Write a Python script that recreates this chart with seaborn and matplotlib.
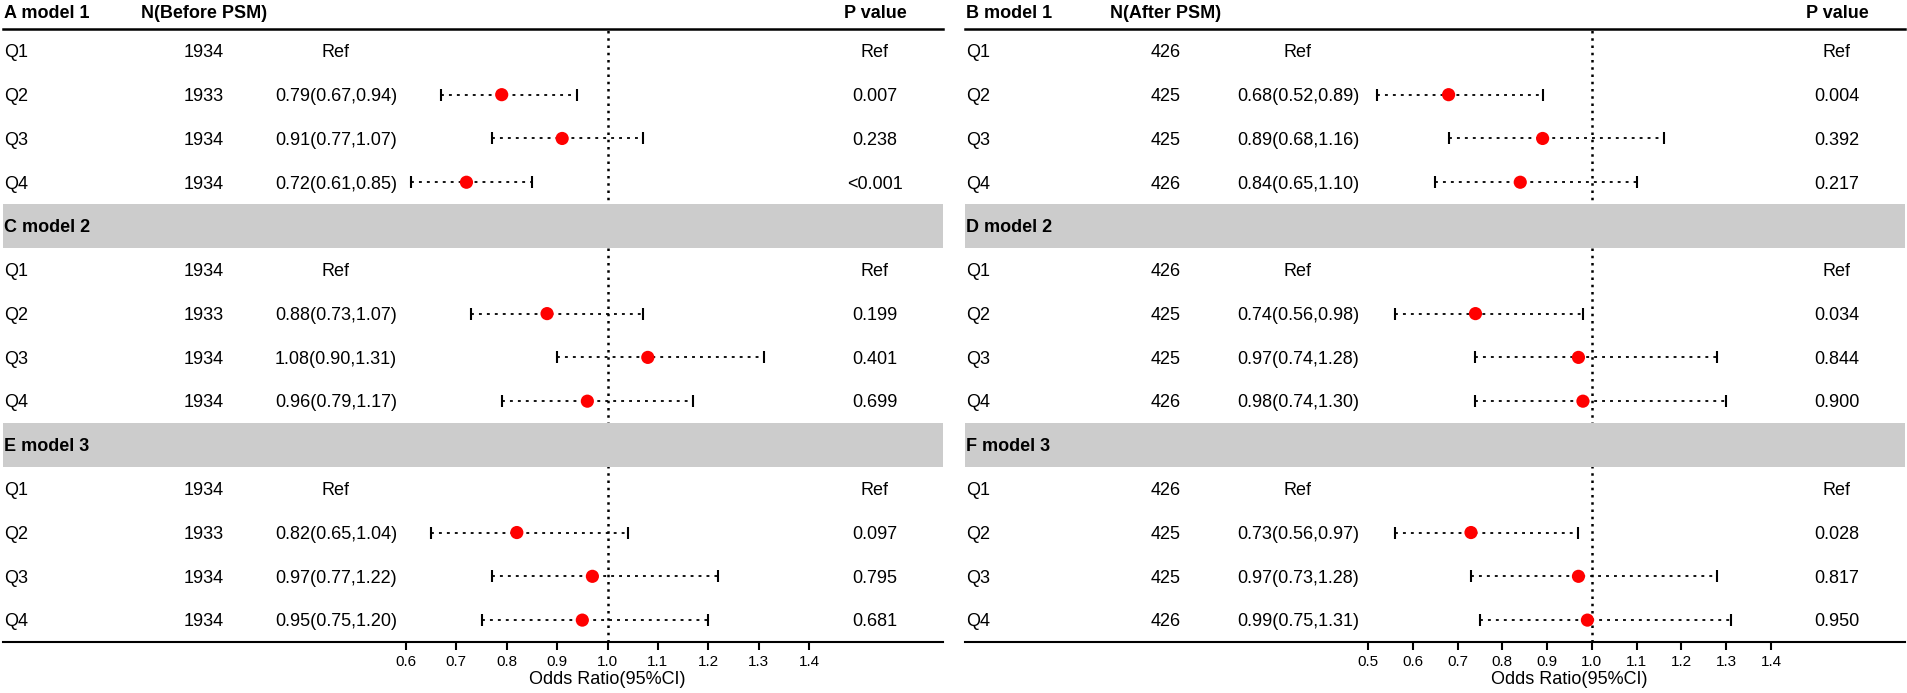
import numpy as np
import pandas as pd
import matplotlib
matplotlib.use("Agg")
import matplotlib.pyplot as plt
import seaborn as sns
from matplotlib.transforms import blended_transform_factory

sns.set_theme(style="white")
plt.rcParams['font.family'] = ['Liberation Sans', 'DejaVu Sans']

# ---------------- data ----------------
quartiles = ["Q1", "Q2", "Q3", "Q4"]
left_titles = ["A model 1", "C model 2", "E model 3"]
right_titles = ["B model 1", "D model 2", "F model 3"]
left_n_header = "N(Before PSM)"
right_n_header = "N(After PSM)"
left_n = [1934, 1933, 1934, 1934]
right_n = [426, 425, 425, 426]

# Q2, Q3, Q4 (Q1 is reference)
a_or = [0.79, 0.91, 0.72]; a_lo = [0.67, 0.77, 0.61]; a_hi = [0.94, 1.07, 0.85]
a_p = ["0.007", "0.238", "<0.001"]
c_or = [0.88, 1.08, 0.96]; c_lo = [0.73, 0.90, 0.79]; c_hi = [1.07, 1.31, 1.17]
c_p = ["0.199", "0.401", "0.699"]
e_or = [0.82, 0.97, 0.95]; e_lo = [0.65, 0.77, 0.75]; e_hi = [1.04, 1.22, 1.20]
e_p = ["0.097", "0.795", "0.681"]

b_or = [0.68, 0.89, 0.84]; b_lo = [0.52, 0.68, 0.65]; b_hi = [0.89, 1.16, 1.10]
b_p = ["0.004", "0.392", "0.217"]
d_or = [0.74, 0.97, 0.98]; d_lo = [0.56, 0.74, 0.74]; d_hi = [0.98, 1.28, 1.30]
d_p = ["0.034", "0.844", "0.900"]
f_or = [0.73, 0.97, 0.99]; f_lo = [0.56, 0.73, 0.75]; f_hi = [0.97, 1.28, 1.31]
f_p = ["0.028", "0.817", "0.950"]

left_ticks = [0.6, 0.7, 0.8, 0.9, 1.0, 1.1, 1.2, 1.3, 1.4]
right_ticks = [0.5, 0.6, 0.7, 0.8, 0.9, 1.0, 1.1, 1.2, 1.3, 1.4]
xlabel = "Odds Ratio(95%CI)"

# ---------------- layout ----------------
W, H = 1908, 693
fig = plt.figure(figsize=(W / 100, H / 100), dpi=100)
PANEL_W = 940
AX_TOP, AX_BOT = 29, 642
bottom = (H - AX_BOT) / H
height = (AX_BOT - AX_TOP) / H
FS = 13
HDR_Y = 0.14


def build_df(models, n):
    rows = []
    for k, (orv, lo, hi, p) in enumerate(models):
        for j, q in enumerate(quartiles):
            r = 5 * k + 1 + j
            if j == 0:
                rows.append(dict(row=r, q=q, n=n[j], or_=np.nan, lo=np.nan, hi=np.nan,
                                 txt="Ref", p="Ref"))
            else:
                rows.append(dict(row=r, q=q, n=n[j], or_=orv[j - 1], lo=lo[j - 1], hi=hi[j - 1],
                                 txt=f"{orv[j-1]:.2f}({lo[j-1]:.2f},{hi[j-1]:.2f})", p=p[j - 1]))
    return pd.DataFrame(rows)


def draw_panel(x0, titles, n_header, df, ticks):
    ax = fig.add_axes([x0 / W, bottom, PANEL_W / W, height])
    ax2 = fig.add_axes([(x0 + 403) / W, bottom, 403 / W, height])
    ax.set_zorder(2)
    ax2.set_zorder(1)
    ax.patch.set_visible(False)
    ax2.patch.set_visible(False)
    for a in (ax, ax2):
        a.set_ylim(14.5, 0.5)
    ax.set_xlim(0, 1)
    ax.set_xticks([]); ax.set_yticks([])
    for s in ("left", "right"):
        ax.spines[s].set_visible(False)
    ax.spines["top"].set_linewidth(1.8)
    ax.spines["bottom"].set_linewidth(1.5)
    ax.spines["top"].set_color("black")
    ax.spines["bottom"].set_color("black")
    for s in ax2.spines.values():
        s.set_visible(False)

    tr = blended_transform_factory(ax.transAxes, ax.transData)
    fx = lambda off: off / PANEL_W

    # headers
    ax.text(fx(1), HDR_Y, titles[0], transform=tr, ha="left", va="center",
            fontsize=FS, fontweight="bold", color="black", clip_on=False)
    ax.text(fx(201), HDR_Y, n_header, transform=tr, ha="center", va="center",
            fontsize=FS, fontweight="bold", color="black", clip_on=False)
    ax.text(fx(872), HDR_Y, "P value", transform=tr, ha="center", va="center",
            fontsize=FS, fontweight="bold", color="black", clip_on=False)

    # bands
    for k in (1, 2):
        r = 5 * k
        ax.axhspan(r - 0.5, r + 0.5, color="#CCCCCC", lw=0, zorder=3)
        ax.text(fx(1), r + 0.04, titles[k], transform=tr, ha="left", va="center",
                fontsize=FS, fontweight="bold", color="black", zorder=4)

    # text columns
    for _, rw in df.iterrows():
        y = rw.row + 0.04
        ax.text(fx(1), y, rw.q, transform=tr, ha="left", va="center", fontsize=FS, color="black")
        ax.text(fx(201), y, str(rw.n), transform=tr, ha="center", va="center", fontsize=FS, color="black")
        ax.text(fx(333), y, rw.txt, transform=tr, ha="center", va="center", fontsize=FS, color="black")
        ax.text(fx(872), y, rw.p, transform=tr, ha="center", va="center", fontsize=FS, color="black")

    # forest column
    ax2.set_xlim(ticks[0], ticks[-1])
    ax2.axvline(1.0, color="black", lw=1.8, ls=(0, (1.0, 1.9)), zorder=1)
    d = df.dropna(subset=["or_"])
    ax2.hlines(d["row"], d["lo"], d["hi"], colors="black", lw=1.3,
               linestyles=[(0, (1.6, 2.8))], zorder=2)
    ax2.scatter(d["lo"], d["row"], marker="|", s=64, c="black", linewidths=1.5, zorder=3)
    ax2.scatter(d["hi"], d["row"], marker="|", s=64, c="black", linewidths=1.5, zorder=3)
    sns.scatterplot(data=d, x="or_", y="row", ax=ax2, color="red", s=90,
                    edgecolor="none", linewidth=0, zorder=5, legend=False)
    ax2.set_ylim(14.5, 0.5)
    ax2.set_yticks([])
    ax2.set_ylabel("")
    ax2.set_xticks(ticks)
    ax2.set_xticklabels([f"{t:.1f}" for t in ticks])
    ax2.tick_params(axis="x", bottom=True, direction="out", length=6, width=1.5,
                    pad=3, labelsize=11, colors="black")
    ax2.set_xlabel(xlabel, fontsize=FS, color="black", labelpad=1.5)


left_df = build_df([(a_or, a_lo, a_hi, a_p), (c_or, c_lo, c_hi, c_p), (e_or, e_lo, e_hi, e_p)], left_n)
right_df = build_df([(b_or, b_lo, b_hi, b_p), (d_or, d_lo, d_hi, d_p), (f_or, f_lo, f_hi, f_p)], right_n)

draw_panel(3, left_titles, left_n_header, left_df, left_ticks)
draw_panel(965, right_titles, right_n_header, right_df, right_ticks)

fig.savefig("out.png", dpi=100)
